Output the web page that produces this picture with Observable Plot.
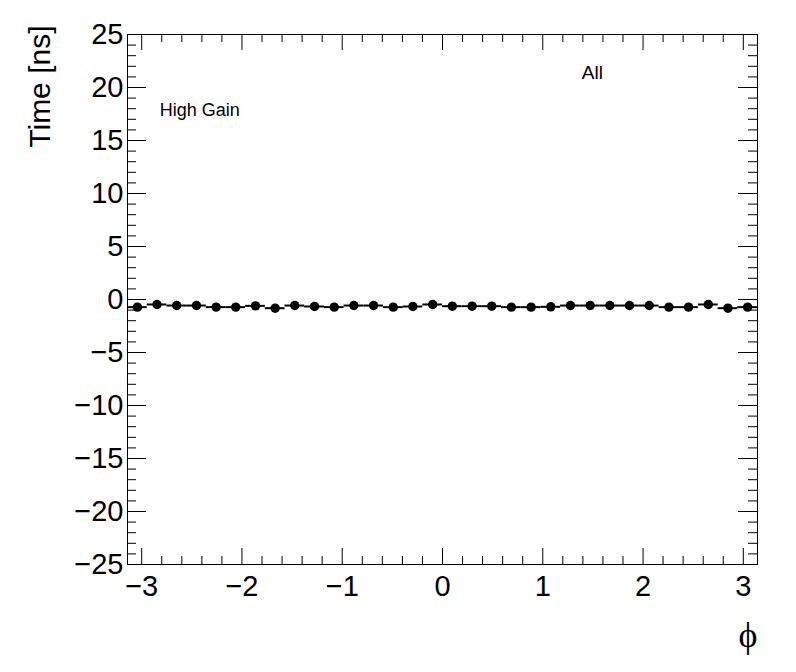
<!DOCTYPE html>
<html><head><meta charset="utf-8">
<script src="https://cdn.jsdelivr.net/npm/d3@7"></script>
<script src="https://cdn.jsdelivr.net/npm/@observablehq/plot@0.6"></script>
<style>html,body{margin:0;padding:0;background:#fff}</style>
</head><body><div id="chart"></div>
<script>
// Bin centers in phi (32 bins over [-pi, pi])
const phiCenters = [-3.043,-2.847,-2.651,-2.454,-2.258,-2.062,-1.865,-1.669,-1.473,-1.276,-1.080,-0.884,-0.687,-0.491,-0.295,-0.098,
                    0.098,0.295,0.491,0.687,0.884,1.080,1.276,1.473,1.669,1.865,2.062,2.258,2.454,2.651,2.847,3.043];
const timeValues = [-0.72,-0.47,-0.57,-0.57,-0.72,-0.72,-0.60,-0.82,-0.57,-0.66,-0.72,-0.57,-0.57,-0.72,-0.66,-0.47,
                    -0.63,-0.63,-0.63,-0.72,-0.72,-0.69,-0.57,-0.57,-0.57,-0.57,-0.57,-0.72,-0.72,-0.47,-0.82,-0.72];
const binHalfWidth = 0.0982;
const xMajorTicks = [-3,-2,-1,0,1,2,3];
const yMajorTicks = [-25,-20,-15,-10,-5,0,5,10,15,20,25];
const xMinorTicks = d3.range(-30, 31, 2).map(v => v/10).filter(v => !xMajorTicks.includes(v));
const yMinorTicks = d3.range(-25, 26, 1).filter(v => !yMajorTicks.includes(v));
const labels = [
  {x: -2.82, y: 17.9, text: "High Gain", size: 18},
  {x: 1.39, y: 21.4, text: "All", size: 19}
];

const data = phiCenters.map((p, i) => ({phi: p, t: timeValues[i]}));
const W = 630, H = 530;
const fmt = d => (d < 0 ? "\u2212" : "") + Math.abs(d);

const chart = Plot.plot({
  width: 796, height: 672,
  marginLeft: 127, marginRight: 39, marginTop: 34, marginBottom: 108,
  x: {domain: [-Math.PI, Math.PI]},
  y: {domain: [-25, 25]},
  style: {fontFamily: "'Liberation Sans', Arial, Helvetica, sans-serif", background: "white", color: "black"},
  marks: [
    Plot.frame({stroke: "black", strokeWidth: 1}),
    // inward ticks, all four sides
    Plot.ruleX(xMajorTicks, {x: d => d, insetTop: H - 16, stroke: "black"}),
    Plot.ruleX(xMinorTicks, {x: d => d, insetTop: H - 8, stroke: "black"}),
    Plot.ruleX(xMajorTicks, {x: d => d, insetBottom: H - 16, stroke: "black"}),
    Plot.ruleX(xMinorTicks, {x: d => d, insetBottom: H - 8, stroke: "black"}),
    Plot.ruleY(yMajorTicks, {y: d => d, insetRight: W - 19, stroke: "black"}),
    Plot.ruleY(yMinorTicks, {y: d => d, insetRight: W - 9, stroke: "black"}),
    Plot.ruleY(yMajorTicks, {y: d => d, insetLeft: W - 19, stroke: "black"}),
    Plot.ruleY(yMinorTicks, {y: d => d, insetLeft: W - 9, stroke: "black"}),
    Plot.axisX({ticks: xMajorTicks, tickFormat: fmt, tickSize: 0, tickPadding: 11, fontSize: 29, label: null}),
    Plot.axisY({ticks: yMajorTicks, tickFormat: fmt, tickSize: 0, tickPadding: 4, fontSize: 29, label: null}),
    // data
    Plot.ruleY(data, {y: "t", x1: d => d.phi - binHalfWidth, x2: d => d.phi + binHalfWidth, stroke: "black", strokeWidth: 2}),
    Plot.dot(data, {x: "phi", y: "t", r: 4.7, fill: "black", stroke: "none"}),
    // annotations
    Plot.text(labels, {x: "x", y: "y", text: "text", fontSize: d => d.size, textAnchor: "start", fill: "black"}),
    Plot.text(["Time [ns]"], {text: d => d, frameAnchor: "top-left", rotate: -90, textAnchor: "end", dx: -99, dy: -9, fontSize: 30, fill: "black"}),
    Plot.text(["ϕ"], {text: d => d, frameAnchor: "bottom-right", dx: 0, dy: 82, fontSize: 36, fontFamily: "'Liberation Serif', 'DejaVu Serif', serif", fill: "black"})
  ]
});
document.getElementById("chart").appendChild(chart);
</script>
</body></html>
